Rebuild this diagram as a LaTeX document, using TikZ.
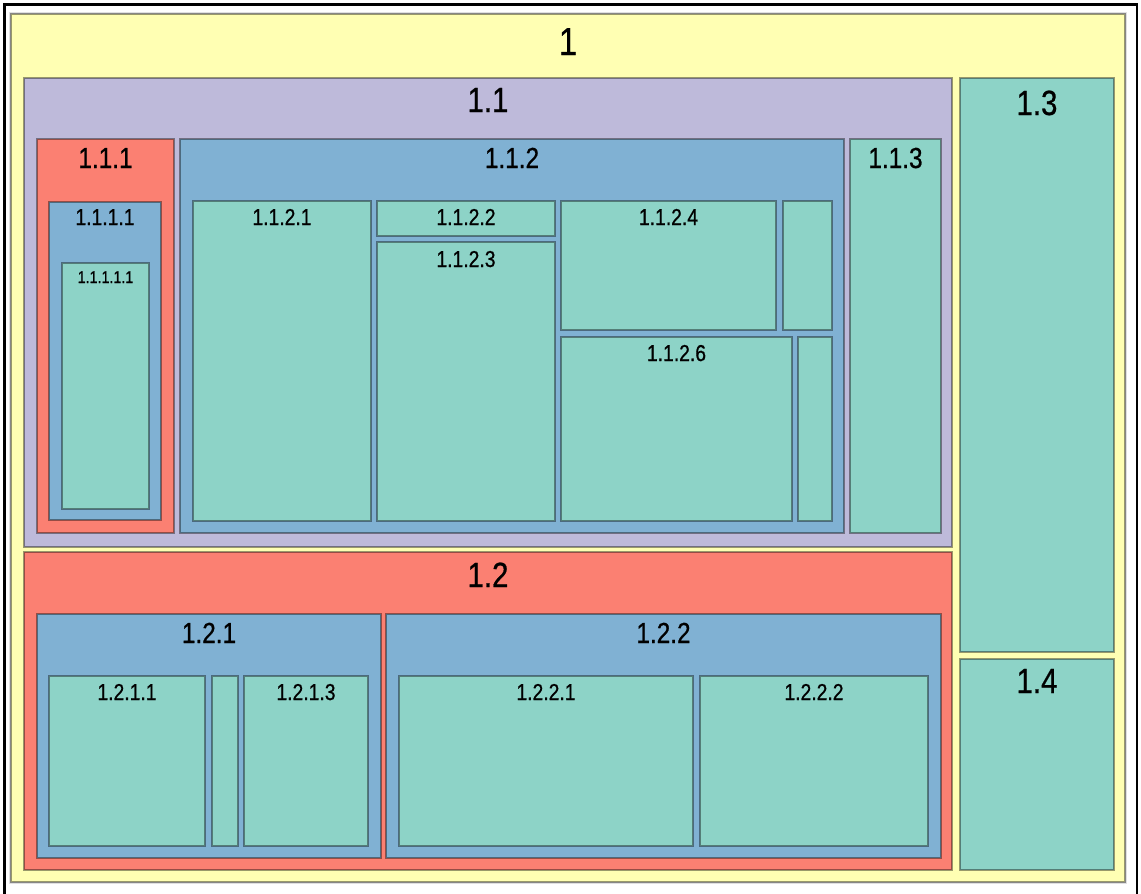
\documentclass[tikz,border=0pt]{standalone}
\usepackage{fontspec}
\setmainfont{Liberation Sans}[FakeStretch=0.84,FakeBold=0.7]
\definecolor{tmyellow}{HTML}{FFFFB3}
\definecolor{tmpurple}{HTML}{BEBADA}
\definecolor{tmred}{HTML}{FB8072}
\definecolor{tmblue}{HTML}{80B1D3}
\definecolor{tmteal}{HTML}{8DD3C7}
\tikzset{
  tmcell/.style={draw=black, draw opacity=0.4, line width=1.4pt},
  tmlabel/.style={anchor=base, inner sep=0pt, text=black},
  frameline/.style={draw=black, line width=2.8pt}
}
% \tmbox{x1}{y1}{x2}{y2}{colour}{label}{size}{baseline}
\newcommand{\tmbox}[8]{%
  \path[tmcell, fill=#5] (#1,#2) rectangle (#3,#4);
  \node[tmlabel, font=\fontsize{#7}{#7}\selectfont] (lbl-#6) at ({(#1+#3)/2},#8) {#6};
}
\newcommand{\tmblank}[5]{%
  \path[tmcell, fill=#5] (#1,#2) rectangle (#3,#4);
}
\begin{document}
\begin{tikzpicture}[x=1pt,y=-1pt]
\useasboundingbox[fill=white] (0,0) rectangle (1141,894);
\draw[frameline] (4.5,894) -- (4.5,4.5) -- (1137,4.5) -- (1137,894);
% level 1
\path[draw=black!12, line width=2pt] (10,13) rectangle (1126,883);
\tmbox{11}{14}{1125}{882}{tmyellow}{1}{39}{55}
% 1.1
\tmbox{24}{78}{952}{547}{tmpurple}{1.1}{35}{112}
\tmbox{37}{139}{174}{533}{tmred}{1.1.1}{29}{168}
\tmbox{49}{202}{161}{520}{tmblue}{1.1.1.1}{23}{225}
\tmbox{62}{263}{149}{509}{tmteal}{1.1.1.1.1}{17}{283}
\tmbox{180}{139}{844}{533}{tmblue}{1.1.2}{29}{168}
\tmbox{193}{201}{371}{521}{tmteal}{1.1.2.1}{23}{225}
\tmbox{377}{201}{555}{236}{tmteal}{1.1.2.2}{23}{225}
\tmbox{377}{242}{555}{521}{tmteal}{1.1.2.3}{23}{267}
\tmbox{561}{201}{776}{330}{tmteal}{1.1.2.4}{23}{225}
\tmblank{783}{201}{832}{330}{tmteal}
\tmbox{561}{337}{792}{521}{tmteal}{1.1.2.6}{23}{361}
\tmblank{798}{337}{832}{521}{tmteal}
\tmbox{850}{139}{941}{533}{tmteal}{1.1.3}{29}{168}
% 1.3, 1.4
\tmbox{960}{78}{1114}{652}{tmteal}{1.3}{35}{115}
\tmbox{960}{659}{1114}{870}{tmteal}{1.4}{35}{693}
% 1.2
\tmbox{24}{552}{952}{870}{tmred}{1.2}{35}{587}
\tmbox{37}{614}{381}{858}{tmblue}{1.2.1}{29}{643}
\tmbox{49}{676}{205}{846}{tmteal}{1.2.1.1}{23}{700}
\tmblank{212}{676}{238}{846}{tmteal}
\tmbox{244}{676}{368}{846}{tmteal}{1.2.1.3}{23}{700}
\tmbox{386}{614}{941}{858}{tmblue}{1.2.2}{29}{643}
\tmbox{399}{676}{693}{846}{tmteal}{1.2.2.1}{23}{700}
\tmbox{700}{676}{928}{846}{tmteal}{1.2.2.2}{23}{700}
\end{tikzpicture}
\end{document}
